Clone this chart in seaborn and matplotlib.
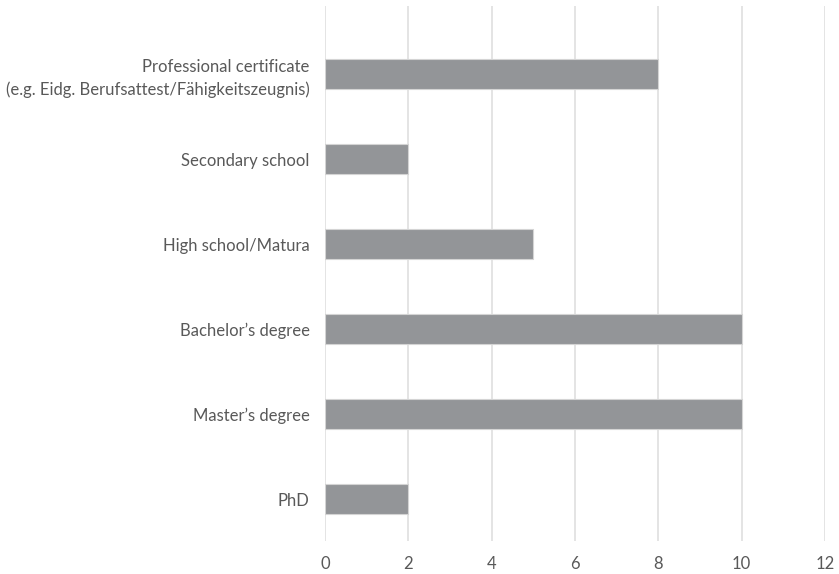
import matplotlib
matplotlib.use("Agg")
import matplotlib.pyplot as plt
import seaborn as sns
import pandas as pd

categories = [
    "Professional certificate\n(e.g. Eidg. Berufsattest/Fähigkeitszeugnis)",
    "Secondary school",
    "High school/Matura",
    "Bachelor\u2019s degree",
    "Master\u2019s degree",
    "PhD",
]
values = [8, 2, 5, 10, 10, 2]
xticks = [0, 2, 4, 6, 8, 10, 12]

sns.set_theme(style="white")
plt.rcParams["font.family"] = ["Lato", "DejaVu Sans"]

df = pd.DataFrame({"category": categories, "count": values})

fig = plt.figure(figsize=(8.39, 5.74), dpi=100)
ax = fig.add_axes([325 / 839, 33 / 574, 500 / 839, 535 / 574])

sns.barplot(data=df, x="count", y="category", color="#939598", saturation=1,
            width=0.353, edgecolor="#d4d4d4", linewidth=0.8, ax=ax, zorder=3)

ax.set_xlim(0, 12)
ax.set_ylim(5.49, -0.8)
ax.set_xticks(xticks)
ax.set_xticklabels([str(t) for t in xticks])
ax.xaxis.grid(True, color="#dcdcdc", linewidth=1.1, zorder=0)
ax.yaxis.grid(False)
for s in ax.spines.values():
    s.set_visible(False)
ax.set_xlabel("")
ax.set_ylabel("")
ax.tick_params(axis="x", length=0, pad=11, labelsize=12, labelcolor="#595959")
ax.tick_params(axis="y", length=0, pad=11, labelsize=12, labelcolor="#595959")
for lbl in ax.get_yticklabels():
    lbl.set_linespacing(1.45)

fig.savefig("out.png", dpi=100, facecolor="white")
